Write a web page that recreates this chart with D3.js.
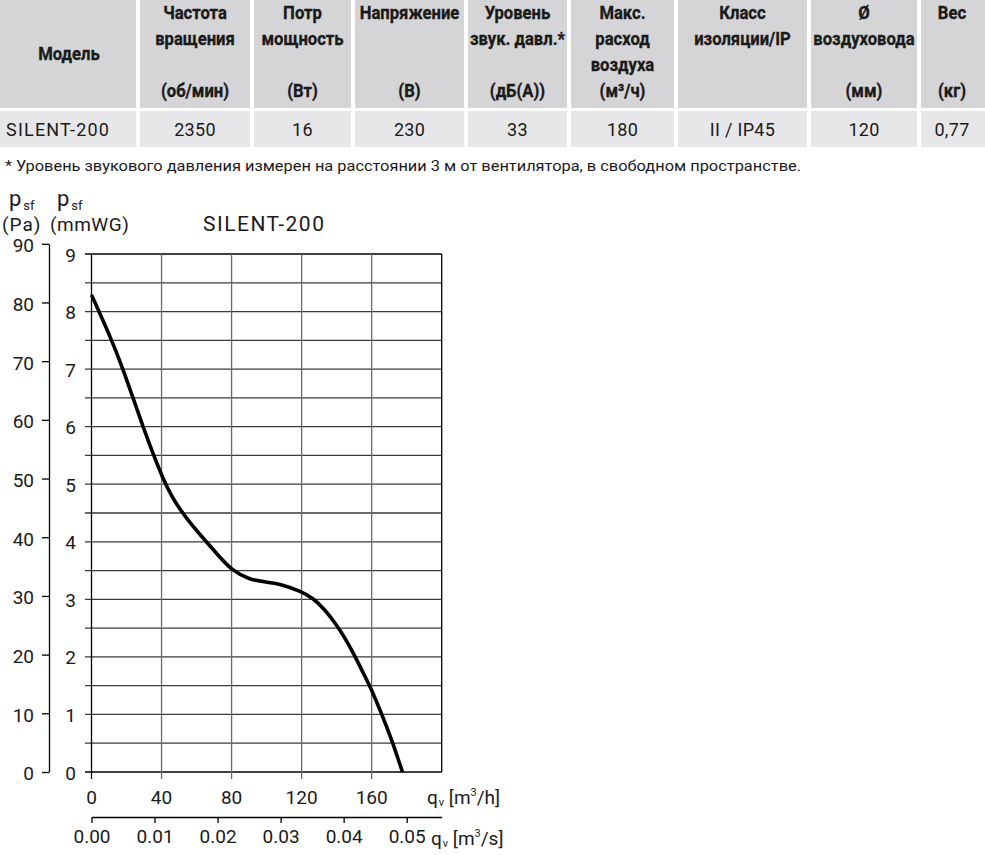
<!DOCTYPE html>
<html lang="ru">
<head>
<meta charset="UTF-8">
<script src="https://d3js.org/d3.v7.min.js"></script>
<title>SILENT-200</title>
<style>
  body { margin: 0; background: #fff; }
  svg text { font-family: Roboto, "DejaVu Sans", sans-serif; fill: #1a1a1a; }
</style>
</head>
<body>
<div id="canvas"></div>
<script>
// table
const colEdges = [0, 138, 252, 353, 466, 569, 676, 809, 919, 985]
const headLines = [
  ["", "Модель", "", ""],
  ["Частота", "вращения", "", "(об/мин)"],
  ["Потр", "мощность", "", "(Вт)"],
  ["Напряжение", "", "", "(В)"],
  ["Уровень", "звук. давл.*", "", "(дБ(А))"],
  ["Макс.", "расход", "воздуха", "(м³/ч)"],
  ["Класс", "изоляции/IP", "", ""],
  ["Ø", "воздуховода", "", "(мм)"],
  ["Вес", "", "", "(кг)"]
]
const rowValues = ["SILENT-200", "2350", "16", "230", "33", "180", "II / IP45", "120", "0,77"]
const footnote = "* Уровень звукового давления измерен на расстоянии 3 м от вентилятора, в свободном пространстве."

// curve: q in m3/h, p in mmWG
const qFlow = [0, 11.5, 18, 23.7, 29.4, 35.5, 40.4, 45.6, 53.2, 65.5, 73.1, 80, 90, 100, 107.4, 119.5, 126.7, 133.3, 139.1, 145, 150.5, 155.2, 160, 165.7, 171.4, 174.3, 177.6]
const pStatic = [8.29, 7.51, 7.0, 6.5, 6.0, 5.5, 5.13, 4.79, 4.44, 4.0, 3.74, 3.51, 3.34, 3.30, 3.27, 3.14, 3.02, 2.82, 2.59, 2.32, 2.01, 1.72, 1.43, 1.01, 0.56, 0.30, 0]
const qTicks = [0, 40, 80, 120, 160]
const qsTicks = [0, 0.01, 0.02, 0.03, 0.04, 0.05]
const mmTicks = [0, 1, 2, 3, 4, 5, 6, 7, 8, 9]
const paTicks = [0, 10, 20, 30, 40, 50, 60, 70, 80, 90]

const svg = d3.select("#canvas").append("svg").attr("width", 985).attr("height", 855)

// ---- table ----
const gap = 3
for (let i = 0; i < 9; i++) {
  const x0 = colEdges[i] + (i > 0 ? gap / 2 + 0.5 : 0)
  const x1 = colEdges[i + 1] - (i < 8 ? gap / 2 + 0.5 : 0)
  svg.append("rect").attr("x", x0).attr("y", 0).attr("width", x1 - x0).attr("height", 108).attr("fill", "#d5d5d7")
  svg.append("rect").attr("x", x0).attr("y", 111).attr("width", x1 - x0).attr("height", 36).attr("fill", "#e7e7e9")
  const cx = (colEdges[i] + colEdges[i + 1]) / 2
  headLines[i].forEach((t, j) => {
    if (!t) return
    const yy = i == 0 ? 54 : 13 + j * 25.8
    svg.append("text").text(t)
      .attr("transform", `translate(${cx},${yy}) scale(0.9,1)`)
      .attr("text-anchor", "middle").attr("dominant-baseline", "central")
      .attr("font-size", 18.5).attr("font-weight", "bold")
      .attr("stroke", "#1a1a1a").attr("stroke-width", 0.35)
  })
  svg.append("text").text(rowValues[i])
    .attr("x", i == 0 ? 6 : cx).attr("y", 129)
    .attr("text-anchor", i == 0 ? "start" : "middle").attr("dominant-baseline", "central")
    .attr("font-size", 18).attr("letter-spacing", i == 0 ? 1.2 : 0.3)
}
svg.append("text").text(footnote).attr("x", 5).attr("y", 166)
  .attr("dominant-baseline", "central").attr("font-size", 15.5)
  .attr("textLength", 796).attr("lengthAdjust", "spacingAndGlyphs")

// ---- chart ----
const x = d3.scaleLinear().domain([0, 200]).range([91.5, 441.7])
const xs = d3.scaleLinear().domain([0, 200 / 3600]).range([91.5, 441.7])
const y = d3.scaleLinear().domain([0, 9]).range([772, 254])
const yPa = d3.scaleLinear().domain([0, 90]).range([772, y(90 / 9.80665)])

// horizontal grid every 0.5 mmWG
svg.append("g").selectAll("line").data(d3.range(0, 9.01, 0.5)).join("line")
  .attr("x1", 85).attr("x2", x(200))
  .attr("y1", d => y(d)).attr("y2", d => y(d))
  .attr("stroke", d => (d == 0 || d == 9) ? "#000" : "#3a3a3a").attr("stroke-width", 1.3)

// vertical grid
svg.append("g").selectAll("line").data(qTicks).join("line")
  .attr("x1", d => x(d)).attr("x2", d => x(d))
  .attr("y1", y(9)).attr("y2", 779)
  .attr("stroke", d => d == 0 ? "#000" : "#6a6a6a").attr("stroke-width", 1.3)
svg.append("line").attr("x1", x(200)).attr("x2", x(200)).attr("y1", y(9)).attr("y2", y(0))
  .attr("stroke", "#000").attr("stroke-width", 1.3)

// mmWG labels
svg.append("g").selectAll("text").data(mmTicks).join("text")
  .attr("x", 76).attr("y", d => y(d) + 1).text(d => d)
  .attr("text-anchor", "end").attr("dominant-baseline", "central").attr("font-size", 19)

// Pa axis
const paAxis = svg.append("g").attr("transform", "translate(49,0)")
  .call(d3.axisLeft(yPa).tickValues(paTicks).tickSize(7).tickSizeOuter(0).tickPadding(8))
paAxis.selectAll("path,line").attr("stroke", "#000").attr("stroke-width", 1.3)
paAxis.selectAll("text").attr("font-size", 19).attr("font-family", "Roboto").attr("fill", "#1a1a1a").attr("dy", "0.42em")

// m3/h labels
svg.append("g").selectAll("text").data(qTicks).join("text")
  .attr("x", d => x(d)).attr("y", 797).text(d => d)
  .attr("text-anchor", "middle").attr("dominant-baseline", "central").attr("font-size", 19)

// m3/s axis
const qsAxis = svg.append("g").attr("transform", "translate(0,817)")
  .call(d3.axisBottom(xs).tickValues(qsTicks).tickSize(6).tickSizeOuter(0).tickPadding(7).tickFormat(d3.format(".2f")))
qsAxis.selectAll("path,line").attr("stroke", "#000").attr("stroke-width", 1.3)
qsAxis.selectAll("text").attr("font-size", 19).attr("font-family", "Roboto").attr("fill", "#1a1a1a")

// curve
const line = d3.line().x((d, i) => x(qFlow[i])).y(d => y(d)).curve(d3.curveBasis)
svg.append("path").datum(pStatic).attr("d", line)
  .attr("fill", "none").attr("stroke", "#000").attr("stroke-width", 3.6).attr("stroke-linejoin", "round")

// axis titles
function unitLabel(xp, yp, unit) {
  const t = svg.append("text").attr("x", xp).attr("y", yp).attr("font-size", 19)
  t.append("tspan").text("q")
  t.append("tspan").text("v").attr("font-size", 11).attr("dx", 1).attr("dy", 2)
  t.append("tspan").text(" [m").attr("font-size", 19).attr("dy", -2)
  t.append("tspan").text("3").attr("font-size", 11).attr("dy", -8)
  t.append("tspan").text(unit).attr("font-size", 19).attr("dy", 8)
}
unitLabel(427, 804, "/h]")
unitLabel(431, 845, "/s]")

function pLabel(xp, yp) {
  const t = svg.append("text").attr("x", xp).attr("y", yp).attr("font-size", 22)
  t.append("tspan").text("p")
  t.append("tspan").text("sf").attr("font-size", 13).attr("dx", 2).attr("dy", 4)
}
pLabel(9, 206)
pLabel(57, 206)
svg.append("text").text("(Pa)").attr("x", 2).attr("y", 231).attr("font-size", 19).attr("letter-spacing", 1)
svg.append("text").text("(mmWG)").attr("x", 50).attr("y", 231).attr("font-size", 19).attr("letter-spacing", 0.5)
svg.append("text").text("SILENT-200").attr("x", 203).attr("y", 231).attr("font-size", 21).attr("letter-spacing", 1.5)
</script>
</body>
</html>
